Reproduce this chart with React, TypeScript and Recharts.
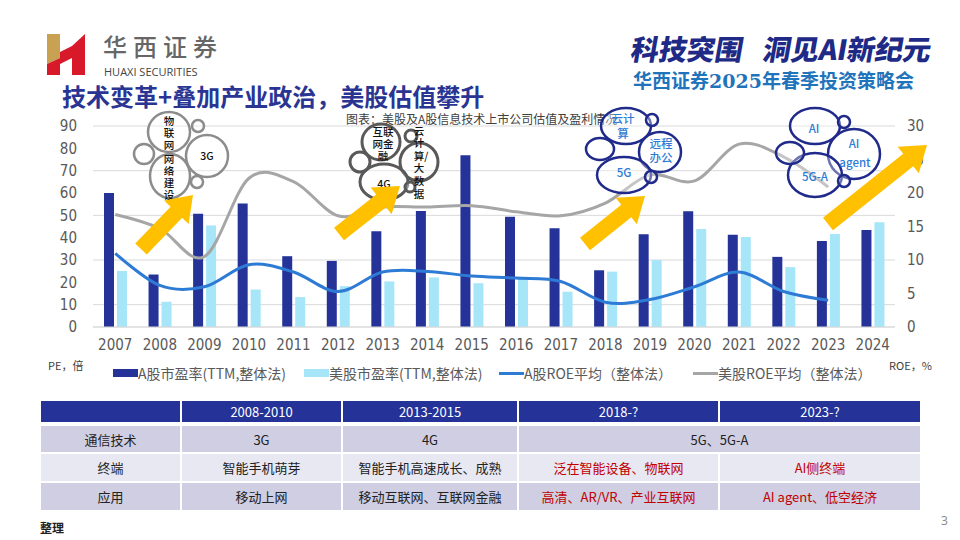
import React from "react";
import { Bar, CartesianGrid, ComposedChart, Line, XAxis, YAxis } from "recharts";

const YEARS = ["2007", "2008", "2009", "2010", "2011", "2012", "2013", "2014", "2015", "2016", "2017", "2018", "2019", "2020", "2021", "2022", "2023", "2024"];
// PE (left axis, 倍)
const A_PE = [60, 23.5, 50.7, 55.3, 31.7, 29.6, 42.9, 51.9, 76.9, 49.4, 44.2, 25.4, 41.5, 51.8, 41.3, 31.4, 38.5, 43.4];
const US_PE = [25.1, 11.3, 45.5, 16.8, 13.4, 18.3, 20.4, 22.2, 19.6, 22.3, 15.8, 24.8, 30, 43.9, 40.3, 26.8, 41.6, 46.9];
// ROE (right axis, %)
const A_ROE = [11.0, 6.2, 6.0, 9.3, 8.2, 5.3, 8.2, 8.3, 7.6, 7.3, 6.8, 3.7, 4.1, 6.0, 8.2, 5.3, 4.0, null];
const US_ROE = [16.8, 14.7, 10.5, 22.2, 21.7, 16.6, 17.9, 17.9, 18.1, 17.2, 16.6, 18.5, 22.7, 21.8, 27.3, 25.4, 20.9, null];
const PE_TICKS = [0, 10, 20, 30, 40, 50, 60, 70, 80, 90];
const ROE_TICKS = [0, 5, 10, 15, 20, 25, 30];

const TABLE_HEAD = ["", "2008-2010", "2013-2015", "2018-?", "2023-?"];
const ROW_TECH = ["通信技术", "3G", "4G", "5G、5G-A"];
const ROW_DEVICE = ["终端", "智能手机萌芽", "智能手机高速成长、成熟", "泛在智能设备、物联网", "AI侧终端"];
const ROW_APP = ["应用", "移动上网", "移动互联网、互联网金融", "高清、AR/VR、产业互联网", "AI agent、低空经济"];

const data = YEARS.map((year, i) => ({
  year,
  aPE: A_PE[i],
  usPE: US_PE[i],
  aROE: A_ROE[i],
  usROE: US_ROE[i],
}));

const NAVY = "#253399";
const LIGHT = "#A6E6F8";
const BLUE = "#2E7BD6";
const GRAY = "#A6A6A6";
const CJK = "'Noto Sans CJK SC', sans-serif";
const NUM = "'Liberation Sans Narrow', 'DejaVu Sans Condensed', Roboto, sans-serif";

// Excel-style smoothed line (catmull-rom like bezier)
class SmoothCurve {
  _context: any;
  _k = 1 / 6;
  _line = NaN;
  _point = 0;
  _x0 = NaN; _x1 = NaN; _x2 = NaN; _y0 = NaN; _y1 = NaN; _y2 = NaN;
  constructor(context: any) {
    this._context = context;
  }
  areaStart() { this._line = 0; }
  areaEnd() { this._line = NaN; }
  lineStart() {
    this._x0 = this._x1 = this._x2 = this._y0 = this._y1 = this._y2 = NaN;
    this._point = 0;
  }
  lineEnd() {
    if (this._point === 2) this._context.lineTo(this._x2, this._y2);
    else if (this._point === 3) this.seg(this._x1, this._y1);
    if (this._line || (this._line !== 0 && this._point === 1)) this._context.closePath();
    this._line = 1 - this._line;
  }
  seg(x: number, y: number) {
    this._context.bezierCurveTo(
      this._x1 + this._k * (this._x2 - this._x0),
      this._y1 + this._k * (this._y2 - this._y0),
      this._x2 + this._k * (this._x1 - x),
      this._y2 + this._k * (this._y1 - y),
      this._x2,
      this._y2
    );
  }
  point(x: number, y: number) {
    x = +x; y = +y;
    switch (this._point) {
      case 0:
        this._point = 1;
        this._line ? this._context.lineTo(x, y) : this._context.moveTo(x, y);
        break;
      case 1:
        this._point = 2;
        this._x1 = x; this._y1 = y;
        break;
      case 2:
        this._point = 3;
        this.seg(x, y);
        break;
      default:
        this.seg(x, y);
    }
    this._x0 = this._x1; this._x1 = this._x2; this._x2 = x;
    this._y0 = this._y1; this._y1 = this._y2; this._y2 = y;
  }
}
const smooth = (context: any) => new SmoothCurve(context);

function arrowPoints(x1: number, y1: number, x2: number, y2: number) {
  const w = 8, hw = 17, hl = 24;
  const dx = x2 - x1, dy = y2 - y1;
  const len = Math.hypot(dx, dy);
  const ux = dx / len, uy = dy / len;
  const nx = -uy, ny = ux;
  const bx = x2 - ux * hl, by = y2 - uy * hl;
  const pts = [
    [x1 + nx * w, y1 + ny * w],
    [bx + nx * w, by + ny * w],
    [bx + nx * hw, by + ny * hw],
    [x2, y2],
    [bx - nx * hw, by - ny * hw],
    [bx - nx * w, by - ny * w],
    [x1 - nx * w, y1 - ny * w],
  ];
  return pts.map((p) => p.join(",")).join(" ");
}

type Bubble = [number, number, number, number];
type Label = [string, number, number];

function Cloud({ bubbles, labels, stroke, color, sw, fs }: { bubbles: Bubble[]; labels: Label[]; stroke: string; color: string; sw: number; fs: number }) {
  return (
    <g>
      {bubbles.map(([cx, cy, rx, ry], i) => (
        <ellipse key={i} cx={cx} cy={cy} rx={rx} ry={ry} fill="rgba(255,255,255,0.35)" stroke={stroke} strokeWidth={sw} />
      ))}
      {labels.map(([t, x, y], i) => (
        <text key={i} x={x} y={y} textAnchor="middle" dominantBaseline="central" fontSize={fs} fontWeight={500} fill={color} fontFamily={CJK}>
          {t}
        </text>
      ))}
    </g>
  );
}

function Annotations() {
  return (
    <svg width={960} height={540} style={{ position: "absolute", left: 0, top: 0, pointerEvents: "none" }}>
      <Cloud
        stroke="#8C8C8C"
        color="#111"
        sw={2.5}
        fs={10.5}
        bubbles={[
          [169, 132, 21, 20],
          [207, 156, 21, 21],
          [170, 176, 20, 22],
          [144, 154, 10, 10],
          [198, 126, 6, 6],
          [197, 182, 6, 6],
        ]}
        labels={[
          ["物", 169, 120], ["联", 169, 132], ["网", 169, 144], ["网", 169, 158],
          ["络", 169, 170], ["建", 169, 182], ["设", 169, 194], ["3G", 207, 155],
        ]}
      />
      <Cloud
        stroke="#595959"
        color="#111"
        sw={3}
        fs={10.5}
        bubbles={[
          [381, 142, 19, 18],
          [419, 162, 19, 19],
          [384, 182, 24, 18],
          [360, 162, 10, 10],
          [411, 136, 6, 6],
          [410, 187, 5, 5],
        ]}
        labels={[
          ["互联", 383, 131], ["网金", 383, 143], ["融", 383, 155],
          ["云", 419, 130], ["计", 419, 142], ["算/", 421, 155], ["大", 419, 167], ["数", 419, 180], ["据", 419, 193],
          ["4G", 384, 183],
        ]}
      />
      <Cloud
        stroke="#1F2A8A"
        color={BLUE}
        sw={2.5}
        fs={11.5}
        bubbles={[
          [626, 126, 25, 18],
          [660, 152, 21, 20],
          [624, 175, 27, 18],
          [600, 149, 14, 11],
          [652, 120, 6, 6],
          [651, 177, 6, 6],
        ]}
        labels={[
          ["云计", 623, 118], ["算", 623, 133], ["远程", 661, 143], ["办公", 661, 157], ["5G", 624, 172],
        ]}
      />
      <Cloud
        stroke="#1F2A8A"
        color={BLUE}
        sw={2.5}
        fs={11.5}
        bubbles={[
          [815, 126, 25, 18],
          [854, 154, 26, 25],
          [815, 175, 27, 22],
          [790, 153, 14, 11],
          [844, 122, 6, 6],
          [844, 181, 6, 6],
        ]}
        labels={[
          ["AI", 814, 128], ["AI", 854, 143], ["agent", 855, 162], ["5G-A", 815, 176],
        ]}
      />
      <polygon points={arrowPoints(141, 249, 193, 195)} fill="#FFC000" />
      <polygon points={arrowPoints(339, 234, 400, 186)} fill="#FFC000" />
      <polygon points={arrowPoints(585, 244, 645, 196)} fill="#FFC000" />
      <polygon points={arrowPoints(828, 224, 927, 145)} fill="#FFC000" />
    </svg>
  );
}

function Header() {
  return (
    <>
      <svg width={960} height={118} style={{ position: "absolute", left: 0, top: 0 }}>
        <polygon points="47,34 60,34 60,58 47,64" fill="#C9A153" />
        <polygon points="47,64 60,58 60,75 47,75" fill="#D7192A" />
        <polygon points="60,52 72,46 72,58 60,64" fill="#D7192A" />
        <polygon points="72,46 85,34 85,75 72,75" fill="#D7192A" />
        <text x={103} y={56} fontSize={24} fontWeight={500} letterSpacing={6} fill="#666" fontFamily={CJK}>华西证券</text>
        <text x={104} y={76} fontSize={11} fill="#444" fontFamily="'Open Sans', sans-serif">HUAXI SECURITIES</text>
        <text x={62} y={106} fontSize={24} fontWeight={700} fill="#2A3593" fontFamily={CJK}>技术变革+叠加产业政治，美股估值攀升</text>
        <g transform="translate(10,0) skewX(-10)">
          <text x={630} y={60} fontSize={28} fontWeight={900} fill="#1E2A86" fontFamily={CJK}>科技突围</text>
          <text x={762} y={60} fontSize={28} fontWeight={900} fill="#1E2A86" fontFamily={CJK}>洞见AI新纪元</text>
        </g>
        <text x={633} y={88} fontSize={19} fontWeight={700} fill="#1F74BB" fontFamily="'DejaVu Serif', 'Noto Sans CJK SC', serif">华西证券2025年春季投资策略会</text>
      </svg>
      <div style={{ position: "absolute", left: 346, top: 110, fontSize: 12, color: "#404040", fontFamily: CJK, whiteSpace: "nowrap" }}>
        图表：美股及A股信息技术上市公司估值及盈利情况
      </div>
    </>
  );
}

const LEGEND = [
  { label: "A股市盈率(TTM,整体法)", color: NAVY, kind: "rect", x: 113 },
  { label: "美股市盈率(TTM,整体法)", color: LIGHT, kind: "rect", x: 304 },
  { label: "A股ROE平均（整体法）", color: BLUE, kind: "line", x: 499 },
  { label: "美股ROE平均（整体法）", color: GRAY, kind: "line", x: 693 },
];

function LegendRow() {
  return (
    <>
      <div style={{ position: "absolute", left: 48, top: 357, fontSize: 11, color: "#404040", fontFamily: CJK }}>PE，倍</div>
      <div style={{ position: "absolute", left: 889, top: 357, fontSize: 11, color: "#404040", fontFamily: CJK }}>ROE，%</div>
      {LEGEND.map((item) => (
        <div key={item.label} style={{ position: "absolute", left: item.x, top: 364, height: 18, display: "flex", alignItems: "center", fontFamily: CJK, fontSize: 14, color: "#595959", whiteSpace: "nowrap" }}>
          <span style={{ display: "inline-block", width: 25, height: item.kind === "rect" ? 8 : 3, background: item.color }} />
          <span>{item.label}</span>
        </div>
      ))}
    </>
  );
}

function InfoTable() {
  const cell: React.CSSProperties = { border: "2px solid #fff", textAlign: "center", padding: 0, fontSize: 13, fontFamily: CJK };
  const red = "#C00000";
  return (
    <table style={{ position: "absolute", left: 39, top: 399, width: 881, borderCollapse: "collapse", tableLayout: "fixed" }}>
      <colgroup>
        <col style={{ width: 141 }} />
        <col style={{ width: 161 }} />
        <col style={{ width: 176 }} />
        <col style={{ width: 201 }} />
        <col style={{ width: 202 }} />
      </colgroup>
      <tbody>
        <tr style={{ height: 24 }}>
          {TABLE_HEAD.map((h, i) => (
            <td key={i} style={{ ...cell, background: NAVY, color: "#fff", borderBottomWidth: 4 }}>{h}</td>
          ))}
        </tr>
        <tr style={{ height: 29 }}>
          <td style={{ ...cell, background: "#CFCEE2", color: "#222" }}>{ROW_TECH[0]}</td>
          <td style={{ ...cell, background: "#CFCEE2", color: "#222" }}>{ROW_TECH[1]}</td>
          <td style={{ ...cell, background: "#CFCEE2", color: "#222" }}>{ROW_TECH[2]}</td>
          <td colSpan={2} style={{ ...cell, background: "#CFCEE2", color: "#222" }}>{ROW_TECH[3]}</td>
        </tr>
        <tr style={{ height: 29 }}>
          {ROW_DEVICE.map((t, i) => (
            <td key={i} style={{ ...cell, background: "#E8E8F2", color: i >= 3 ? red : "#222" }}>{t}</td>
          ))}
        </tr>
        <tr style={{ height: 29 }}>
          {ROW_APP.map((t, i) => (
            <td key={i} style={{ ...cell, background: "#CFCEE2", color: i >= 3 ? red : "#222" }}>{t}</td>
          ))}
        </tr>
      </tbody>
    </table>
  );
}

export default function App() {
  return (
    <div style={{ position: "absolute", left: 0, top: 0, width: 960, height: 540, background: "#fff", overflow: "hidden" }}>
      <Header />
      <div style={{ position: "absolute", left: 0, top: 0 }}>
        <ComposedChart width={960} height={360} data={data} margin={{ top: 126, right: 0, bottom: 0, left: 0 }} barGap={3} barSize={10}>
          <CartesianGrid yAxisId="left" vertical={false} stroke="#D9D9D9" />
          <XAxis
            dataKey="year"
            height={33}
            tickLine={false}
            axisLine={{ stroke: "#D9D9D9" }}
            tickSize={0}
            tickMargin={12}
            tick={{ fontSize: 15, fill: "#595959", fontFamily: NUM }}
            interval={0}
          />
          <YAxis
            yAxisId="left"
            width={93}
            domain={[0, 90]}
            ticks={PE_TICKS}
            tickLine={false}
            axisLine={false}
            tickSize={0}
            tickMargin={16}
            tick={{ fontSize: 15, fill: "#595959", fontFamily: NUM }}
          />
          <YAxis
            yAxisId="right"
            orientation="right"
            width={65}
            domain={[0, 30]}
            ticks={ROE_TICKS}
            tickLine={false}
            axisLine={false}
            tickSize={0}
            tickMargin={12}
            tick={{ fontSize: 15, fill: "#595959", fontFamily: NUM, textAnchor: "start" }}
          />
          <Bar yAxisId="left" dataKey="aPE" fill={NAVY} isAnimationActive={false} />
          <Bar yAxisId="left" dataKey="usPE" fill={LIGHT} isAnimationActive={false} />
          <Line yAxisId="right" dataKey="usROE" type={smooth as any} stroke={GRAY} strokeWidth={3} dot={false} isAnimationActive={false} />
          <Line yAxisId="right" dataKey="aROE" type={smooth as any} stroke={BLUE} strokeWidth={3} dot={false} isAnimationActive={false} />
        </ComposedChart>
      </div>
      <Annotations />
      <LegendRow />
      <InfoTable />
      <div style={{ position: "absolute", left: 40, top: 519, fontSize: 12, fontWeight: 700, color: "#222", fontFamily: CJK }}>整理</div>
      <div style={{ position: "absolute", left: 941, top: 512, fontSize: 12, color: "#888", fontFamily: "'Open Sans', sans-serif" }}>3</div>
    </div>
  );
}
